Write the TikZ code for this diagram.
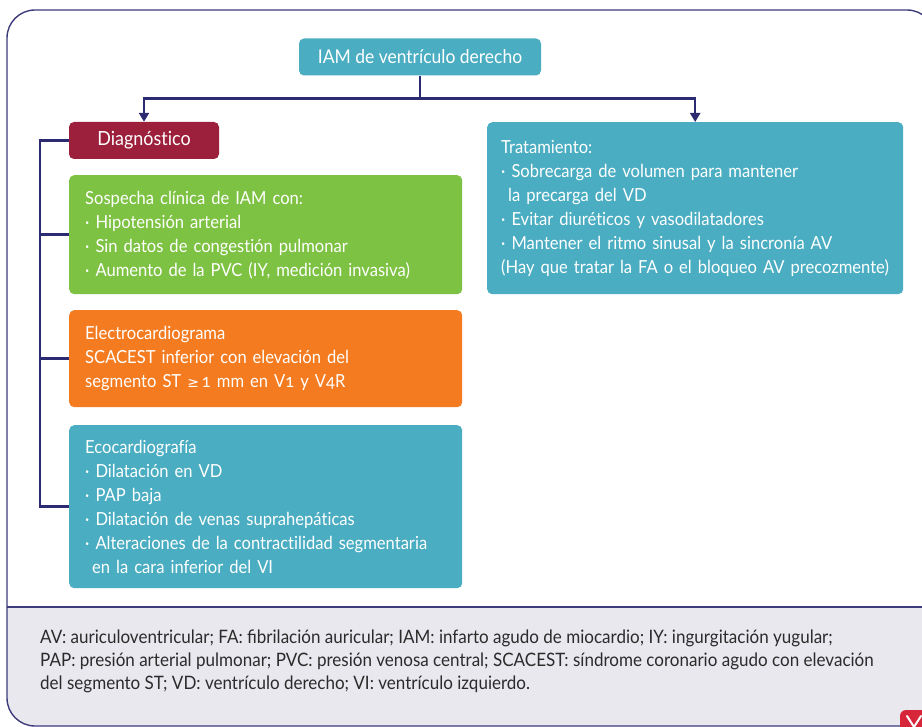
\documentclass[tikz,border=0pt]{standalone}
\usepackage{fontspec}
\setmainfont{Lato}
\newfontfamily\boxfont{Lato}[FakeStretch=0.92, Ligatures=NoCommon]
\newfontfamily\notefont{Lato}[FakeStretch=0.92]
\newfontfamily\symfont{DejaVu Sans}
\usetikzlibrary{arrows.meta,calc}

\definecolor{boxteal}{HTML}{4AADC2}
\definecolor{crimson}{HTML}{9C1F3B}
\definecolor{leafgreen}{HTML}{7DC242}
\definecolor{ecgorange}{HTML}{F47B20}
\definecolor{linknavy}{HTML}{2C2A70}
\definecolor{framenavy}{HTML}{3D3B7C}
\definecolor{footbg}{HTML}{E9E8EF}
\definecolor{foottext}{HTML}{2B2B2B}
\definecolor{logored}{HTML}{D7263A}

\newcommand{\osn}[1]{{\addfontfeatures{Numbers=OldStyle}#1}}

\begin{document}
\begin{tikzpicture}[x=1pt,y=-1pt,
  box/.style={rectangle, rounded corners=5pt, text=white, inner sep=0pt},
  listbox/.style={box, anchor=north west, align=left, inner xsep=16pt,
    font=\boxfont\fontsize{18}{24}\selectfont},
  link/.style={draw=linknavy, line width=2.4pt},
  arr/.style={link, -{Triangle[width=10pt,length=9pt]}},
  frame/.style={draw=framenavy, line width=1.4pt}]
\useasboundingbox (0,0) rectangle (922,727);

% legend band and outer frame
\begin{scope}
  \clip (0,607) rectangle (922,727);
  \fill[footbg, rounded corners=28pt] (7,10) rectangle (935,726);
\end{scope}
\draw[frame] (7,607) -- (922,607);
\draw[frame, rounded corners=28pt] (7,10) rectangle (935,726);

% publisher mark in the corner
\fill[logored, rounded corners=6pt] (900,710) rectangle (945,750);
\draw[white, line width=2pt, line cap=round] (907,716) -- (914,727) -- (921,716);

% header and branches
\node[box, fill=boxteal, minimum width=242pt, minimum height=37pt,
  font=\boxfont\fontsize{19}{22}\selectfont] (title) at (420,57) {IAM de ventrículo derecho};
\node[box, fill=crimson, minimum width=150pt, minimum height=37pt,
  font=\boxfont\fontsize{19.5}{22}\selectfont] (diag) at (144,140.5) {Diagnóstico};

\node[listbox, fill=leafgreen, text width=361pt, minimum height=119pt] (clin) at (69,175)
  {Sospecha clínica de IAM con:\\
   · Hipotensión arterial\\
   · Sin datos de congestión pulmonar\\
   · Aumento de la PVC (IY, medición invasiva)};

\node[listbox, fill=ecgorange, text width=361pt, minimum height=97pt] (ecg) at (69,310)
  {Electrocardiograma\\
   SCACEST inferior con elevación del\\
   segmento ST {\symfont\fontsize{14}{14}\selectfont ≥}\,\osn{1} mm en V\osn{1} y V\osn{4}R};

\node[listbox, fill=boxteal, text width=361pt, minimum height=163pt] (eco) at (69,425)
  {Ecocardiografía\\
   · Dilatación en VD\\
   · PAP baja\\
   · Dilatación de venas suprahepáticas\\
   · Alteraciones de la contractilidad segmentaria\\
   \hspace*{7pt}en la cara inferior del VI};

\node[listbox, fill=boxteal, inner xsep=14pt, text width=388pt, minimum height=172pt] (trat) at (487,122)
  {Tratamiento:\\
   · Sobrecarga de volumen para mantener\\
   \hspace*{7pt}la precarga del VD\\
   · Evitar diuréticos y vasodilatadores\\
   · Mantener el ritmo sinusal y la sincronía AV\\
   \mbox{(Hay que tratar la FA o el bloqueo AV precozmente)}};

% connectors
\draw[arr] (title.south) -- ++(0,23) -| (diag.north);
\draw[arr] (title.south) -- ++(0,23) -| (trat.north);
\draw[link] (diag.west) -- ++(-29,0) coordinate (spine) |- (eco.west);
\draw[link] (clin.west) -- (clin.west -| spine);
\draw[link] (ecg.west) -- (ecg.west -| spine);

% abbreviations
\node[anchor=west, align=left, text=foottext, inner sep=0pt,
  font=\notefont\fontsize{18.5}{23}\selectfont] (legend) at (40,661)
  {AV: auriculoventricular; FA: fibrilación auricular; IAM: infarto agudo de miocardio; IY: ingurgitación yugular;\\
   PAP: presión arterial pulmonar; PVC: presión venosa central; SCACEST: síndrome coronario agudo con elevación\\
   del segmento ST; VD: ventrículo derecho; VI: ventrículo izquierdo.};
\end{tikzpicture}
\end{document}
